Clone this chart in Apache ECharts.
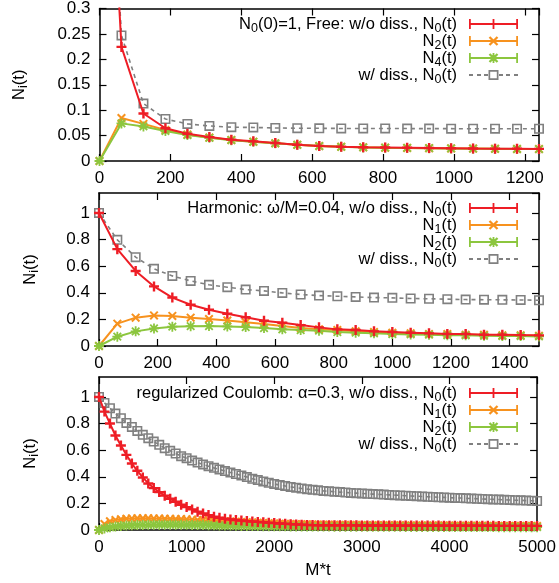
<!DOCTYPE html>
<html lang="en">
  <head>
    <meta charset="UTF-8" />
    <title>N_i(t)</title>
    <style>
      body {
        margin: 0;
        overflow: hidden;
        background: #fff;
      }
      #chart {
        width: 559px;
        height: 583px;
      }
    </style>
    <script src="https://cdn.jsdelivr.net/npm/echarts@6/dist/echarts.min.js"></script>
  </head>
  <body>
    <div id="chart"></div>
    <script>
      // ---- data ----
      // panel 1: free
      var t1 = [0, 62, 124, 186, 248, 310, 372, 434, 496, 558, 620, 682, 744, 806, 868, 930, 992, 1054, 1116, 1178, 1240];
      var freeN0 = [1, 0.2245, 0.0935, 0.0645, 0.0535, 0.047, 0.042, 0.0387, 0.0355, 0.032, 0.0297, 0.028, 0.027, 0.0265, 0.026, 0.0255, 0.025, 0.0245, 0.0242, 0.024, 0.0238];
      var freeN2 = [0, 0.0845, 0.073, 0.061, 0.052, 0.046, 0.0415, 0.038, 0.035, 0.032, 0.0295, 0.028, 0.027, 0.0263, 0.0258, 0.0253, 0.0248, 0.0244, 0.024, 0.0237, 0.0235];
      var freeN4 = [0, 0.074, 0.068, 0.059, 0.051, 0.0455, 0.041, 0.0378, 0.0348, 0.0318, 0.0293, 0.0278, 0.0268, 0.0262, 0.0257, 0.0252, 0.0247, 0.0243, 0.024, 0.0236, 0.0234];
      var freeDiss = [1, 0.247, 0.113, 0.0826, 0.073, 0.069, 0.0665, 0.066, 0.065, 0.0645, 0.0643, 0.064, 0.064, 0.064, 0.0638, 0.0637, 0.0636, 0.0635, 0.0635, 0.0634, 0.0634];

      // panel 2: harmonic
      var t2 = [0, 62.5, 125, 187.5, 250, 312.5, 375, 437.5, 500, 562.5, 625, 687.5, 750, 812.5, 875, 937.5, 1000, 1062.5, 1125, 1187.5, 1250, 1312.5, 1375, 1437.5, 1500];
      var harmN0 = [1, 0.728, 0.564, 0.448, 0.364, 0.31, 0.272, 0.242, 0.216, 0.19, 0.175, 0.157, 0.14, 0.125, 0.12, 0.11, 0.105, 0.1, 0.095, 0.09, 0.09, 0.085, 0.085, 0.082, 0.08];
      var harmN1 = [0, 0.168, 0.213, 0.23, 0.226, 0.213, 0.203, 0.191, 0.178, 0.165, 0.15, 0.135, 0.125, 0.12, 0.11, 0.105, 0.1, 0.095, 0.09, 0.09, 0.085, 0.085, 0.08, 0.08, 0.077];
      var harmN2 = [0, 0.07, 0.11, 0.132, 0.145, 0.149, 0.15, 0.147, 0.142, 0.135, 0.125, 0.12, 0.115, 0.105, 0.1, 0.095, 0.09, 0.087, 0.085, 0.08, 0.08, 0.077, 0.075, 0.075, 0.072];
      var harmDiss = [1, 0.798, 0.668, 0.58, 0.527, 0.489, 0.46, 0.442, 0.424, 0.414, 0.399, 0.387, 0.379, 0.374, 0.369, 0.364, 0.362, 0.357, 0.355, 0.352, 0.349, 0.348, 0.347, 0.346, 0.344];

      // panel 3: regularized Coulomb
      var t3 = [0, 62.5, 125, 187.5, 250, 312.5, 375, 437.5, 500, 562.5, 625, 687.5, 750, 812.5, 875, 937.5,
        1000, 1062.5, 1125, 1187.5, 1250, 1312.5, 1375, 1437.5, 1500, 1562.5, 1625, 1687.5, 1750, 1812.5, 1875, 1937.5,
        2000, 2062.5, 2125, 2187.5, 2250, 2312.5, 2375, 2437.5, 2500, 2562.5, 2625, 2687.5, 2750, 2812.5, 2875, 2937.5,
        3000, 3062.5, 3125, 3187.5, 3250, 3312.5, 3375, 3437.5, 3500, 3562.5, 3625, 3687.5, 3750, 3812.5, 3875, 3937.5,
        4000, 4062.5, 4125, 4187.5, 4250, 4312.5, 4375, 4437.5, 4500, 4562.5, 4625, 4687.5, 4750, 4812.5, 4875, 4937.5, 5000];
      var coulN0 = [1, 0.89, 0.8, 0.71, 0.635, 0.565, 0.5, 0.445, 0.395, 0.35, 0.315, 0.285, 0.258, 0.235, 0.212, 0.19,
        0.172, 0.155, 0.138, 0.124, 0.112, 0.1, 0.092, 0.085, 0.079, 0.075, 0.071, 0.067, 0.064, 0.061, 0.058, 0.055,
        0.052, 0.049, 0.047, 0.044, 0.042, 0.04, 0.038, 0.037, 0.036, 0.036, 0.036, 0.035, 0.035, 0.035, 0.035, 0.035,
        0.034, 0.034, 0.034, 0.034, 0.034, 0.034, 0.033, 0.033, 0.033, 0.033, 0.033, 0.033, 0.033, 0.033, 0.033,
        0.032, 0.032, 0.032, 0.032, 0.032, 0.032, 0.032, 0.032, 0.032, 0.032, 0.031, 0.031, 0.031, 0.031, 0.031, 0.031, 0.031, 0.031];
      var coulN1 = [0, 0.045, 0.065, 0.075, 0.081, 0.085, 0.087, 0.088, 0.088, 0.088, 0.087, 0.086, 0.085, 0.084, 0.083, 0.082,
        0.08, 0.078, 0.076, 0.074, 0.072, 0.07, 0.068, 0.066, 0.064, 0.062, 0.06, 0.058, 0.056, 0.054, 0.052, 0.05,
        0.049, 0.047, 0.046, 0.045, 0.044, 0.043, 0.042, 0.041, 0.04, 0.04, 0.039, 0.039, 0.038, 0.038, 0.037, 0.037,
        0.037, 0.036, 0.036, 0.036, 0.035, 0.035, 0.035, 0.035, 0.034, 0.034, 0.034, 0.034, 0.033, 0.033, 0.033, 0.033,
        0.033, 0.032, 0.032, 0.032, 0.032, 0.032, 0.032, 0.031, 0.031, 0.031, 0.031, 0.031, 0.031, 0.03, 0.03, 0.03, 0.03];
      var coulN2 = [0, 0.012, 0.02, 0.026, 0.03, 0.033, 0.035, 0.037, 0.038, 0.039, 0.04, 0.04, 0.04, 0.04, 0.04, 0.039,
        0.039, 0.038, 0.038, 0.037, 0.036, 0.035, 0.034, 0.033, 0.033, 0.032, 0.031, 0.031, 0.03, 0.03, 0.029, 0.029,
        0.028, 0.028, 0.028, 0.027, 0.027, 0.027, 0.026, 0.026, 0.026, 0.026, 0.026, 0.025, 0.025, 0.025, 0.025, 0.025,
        0.025, 0.024, 0.024, 0.024, 0.024, 0.024, 0.024, 0.024, 0.023, 0.023, 0.023, 0.023, 0.023, 0.023, 0.023, 0.023,
        0.022, 0.022, 0.022, 0.022, 0.022, 0.022, 0.022, 0.022, 0.022, 0.021, 0.021, 0.021, 0.021, 0.021, 0.021, 0.021, 0.021];
      var coulDiss = [1, 0.955, 0.915, 0.875, 0.84, 0.805, 0.775, 0.745, 0.715, 0.69, 0.665, 0.64, 0.615, 0.595, 0.575, 0.555,
        0.54, 0.522, 0.507, 0.493, 0.48, 0.467, 0.455, 0.443, 0.432, 0.421, 0.41, 0.398, 0.385, 0.375, 0.365, 0.355,
        0.346, 0.338, 0.331, 0.324, 0.318, 0.312, 0.307, 0.302, 0.298, 0.294, 0.291, 0.288, 0.285, 0.282, 0.279, 0.277,
        0.275, 0.272, 0.27, 0.268, 0.266, 0.264, 0.262, 0.26, 0.258, 0.256, 0.254, 0.252, 0.25, 0.248, 0.246, 0.245,
        0.243, 0.241, 0.24, 0.238, 0.236, 0.235, 0.233, 0.232, 0.23, 0.229, 0.227, 0.226, 0.224, 0.223, 0.221, 0.22, 0.218];

      // legend texts (rich text, s = subscript)
      var labels = {
        f0: "{m|N}{s|0}{m|(0)=1, Free: w/o diss., N}{s|0}{e|(t)}",
        f2: "{m|N}{s|2}{e|(t)}",
        f4: "{m|N}{s|4}{e|(t)}",
        fd: "{m|w/ diss., N}{s|0}{e|(t)}",
        h0: "{m|Harmonic: ω/M=0.04, w/o diss., N}{s|0}{e|(t)}",
        h1: "{m|N}{s|1}{e|(t)}",
        h2: "{m|N}{s|2}{e|(t)}",
        hd: "{m|w/ diss., N}{s|0}{e|(t)}",
        c0: "{m|regularized Coulomb: α=0.3, w/o diss., N}{s|0}{e|(t)}",
        c1: "{m|N}{s|1}{e|(t)}",
        c2: "{m|N}{s|2}{e|(t)}",
        cd: "{m|w/ diss., N}{s|0}{e|(t)}",
      };

      var FONT = "Liberation Sans";
      var RED = "#ee1d25";
      var ORANGE = "#f7921e";
      var GREEN = "#8cc63e";
      var GRAY = "#808080";

      var rich = {
        m: { fontSize: 16.5, fontFamily: FONT, color: "#000", lineHeight: 19 },
        e: { fontSize: 16.5, fontFamily: FONT, color: "#000", lineHeight: 19, padding: [0, 7, 0, 0] },
        s: { fontSize: 12.5, fontFamily: FONT, color: "#000", lineHeight: 13, padding: [9, 0, 0, 0] },
      };

      // point markers
      var PLUS = "path://M-1.2,-5h2.4v10h-2.4z M-5,-1.2h10v2.4h-10z";
      var CROSS = "path://M-5,-3.4L-3.4,-5L5,3.4L3.4,5z M-5,3.4L3.4,-5L5,-3.4L-3.4,5z";
      var STAR = "path://M-0.9,-5h1.8v10h-1.8z M-5,-0.9h10v1.8h-10z M-4.4,-3.1L-3.1,-4.4L4.4,3.1L3.1,4.4z M-4.4,3.1L3.1,-4.4L4.4,-3.1L-3.1,4.4z";
      var SQUARE = "path://M-5,-5h10v10h-10z M-3.4,-3.4v6.8h6.8v-6.8z";

      // legend samples (error bar style)
      var ENDS = "M0,0h1.8v10h-1.8z M47.2,0h1.8v10h-1.8z M0,4.1h49v1.8h-49z";
      var ICON_RED = "path://" + ENDS + " M23.6,0h1.8v10h-1.8z";
      var ICON_ORANGE = "path://" + ENDS + " M19.7,1.8L21.3,0.2L29.3,8.2L27.7,9.8z M19.7,8.2L27.7,0.2L29.3,1.8L21.3,9.8z";
      var ICON_GREEN = "path://" + ENDS + " M23.6,0h1.8v10h-1.8z M19.7,1.8L21.3,0.2L29.3,8.2L27.7,9.8z M19.7,8.2L27.7,0.2L29.3,1.8L21.3,9.8z";
      var ICON_GRAY = "path://M0,4.1h4v1.8h-4z M8,4.1h4v1.8h-4z M15,4.1h4v1.8h-4z M30,4.1h4v1.8h-4z M37,4.1h4v1.8h-4z M45,4.1h4v1.8h-4z M19.5,0h10v10h-10z M21.2,1.7v6.6h6.6v-6.6z";

      var grids = [
        { left: 99, top: 6, width: 440, height: 155 },
        { left: 99, top: 193, width: 440, height: 153 },
        { left: 99, top: 377, width: 440, height: 153 },
      ];

      var frame = { show: true, onZero: false, lineStyle: { color: "#000", width: 1.5 } };
      var ticks = { show: true, inside: true, length: 7, lineStyle: { color: "#000", width: 1.2 } };
      var tickLabel = {
        color: "#000", fontSize: 17, fontFamily: FONT,
        formatter: function (v) {
          return String(v);
        },
      };

      function xAxes(i, max, interval, hideMax, name) {
        return [
          {
            type: "value", gridIndex: i, min: 0, max: max, interval: interval, position: "bottom",
            axisLine: frame, axisTick: ticks, splitLine: { show: false },
            axisLabel: Object.assign({ margin: 9, showMaxLabel: !hideMax }, tickLabel),
            name: name || "", nameLocation: "middle", nameGap: 32,
            nameTextStyle: { color: "#000", fontSize: 17, fontFamily: FONT },
          },
          {
            type: "value", gridIndex: i, min: 0, max: max, interval: interval, position: "top",
            axisLine: frame, axisTick: ticks, splitLine: { show: false }, axisLabel: { show: false },
          },
        ];
      }

      function yAxes(i, max, interval, hideMax, gap) {
        return [
          {
            type: "value", gridIndex: i, min: 0, max: max, interval: interval, position: "left",
            axisLine: frame, axisTick: ticks, splitLine: { show: false },
            axisLabel: Object.assign({ margin: 9, showMaxLabel: !hideMax }, tickLabel),
            name: "{m|N}{s|i}{m|(t)}", nameLocation: "middle", nameRotate: 90, nameGap: gap,
            nameTextStyle: { rich: rich },
          },
          {
            type: "value", gridIndex: i, min: 0, max: max, interval: interval, position: "right",
            axisLine: frame, axisTick: ticks, splitLine: { show: false }, axisLabel: { show: false },
          },
        ];
      }

      function pts(t, y) {
        return t.map(function (x, k) {
          return [x, y[k]];
        });
      }

      function line(name, i, t, y, kind) {
        var s = {
          name: name, type: "line", xAxisIndex: 2 * i, yAxisIndex: 2 * i, data: pts(t, y),
          symbolSize: 10, animation: false, clip: true, z: 3,
          emphasis: { disabled: true },
        };
        if (kind === "red") {
          s.symbol = PLUS; s.color = RED;
          s.lineStyle = { color: RED, width: 2 };
          s.itemStyle = { color: RED, borderWidth: 0 };
          s.z = 5;
        } else if (kind === "orange") {
          s.symbol = CROSS; s.symbolSize = 9; s.color = ORANGE;
          s.lineStyle = { color: ORANGE, width: 2 };
          s.itemStyle = { color: ORANGE, borderWidth: 0 };
        } else if (kind === "green") {
          s.symbol = STAR; s.color = GREEN;
          s.lineStyle = { color: GREEN, width: 2 };
          s.itemStyle = { color: GREEN, borderWidth: 0 };
          s.z = 4;
        } else {
          s.symbol = SQUARE; s.color = GRAY;
          s.lineStyle = { color: GRAY, width: 1.6, type: [4, 4] };
          s.itemStyle = { color: GRAY, borderWidth: 0 };
          s.z = 2;
        }
        return s;
      }

      function legend(keys, top) {
        var icons = [ICON_RED, ICON_ORANGE, ICON_GREEN, ICON_GRAY];
        return {
          orient: "vertical", align: "right", right: 41, top: top, padding: 0,
          itemWidth: 49, itemHeight: 10, itemGap: -5, selectedMode: false,
          data: keys.map(function (k, j) {
            return { name: k, icon: icons[j], itemStyle: { borderWidth: 0 } };
          }),
          formatter: function (n) {
            return labels[n];
          },
          textStyle: { rich: rich },
        };
      }

      var option = {
        backgroundColor: "#fff",
        animation: false,
        grid: grids,
        xAxis: [].concat(xAxes(0, 1240, 200, true), xAxes(1, 1500, 200, true), xAxes(2, 5000, 1000, false, "M*t")),
        yAxis: [].concat(yAxes(0, 0.3, 0.05, false, 71), yAxes(1, 1.15, 0.2, true, 59), yAxes(2, 1.15, 0.2, true, 59)),
        legend: [
          legend(["f0", "f2", "f4", "fd"], 13),
          legend(["h0", "h1", "h2", "hd"], 197),
          legend(["c0", "c1", "c2", "cd"], 382),
        ],
        series: [
          line("fd", 0, t1, freeDiss, "gray"),
          line("f4", 0, t1, freeN4, "green"),
          line("f2", 0, t1, freeN2, "orange"),
          line("f0", 0, t1, freeN0, "red"),
          line("hd", 1, t2, harmDiss, "gray"),
          line("h2", 1, t2, harmN2, "green"),
          line("h1", 1, t2, harmN1, "orange"),
          line("h0", 1, t2, harmN0, "red"),
          line("cd", 2, t3, coulDiss, "gray"),
          line("c2", 2, t3, coulN2, "green"),
          line("c1", 2, t3, coulN1, "orange"),
          line("c0", 2, t3, coulN0, "red"),
        ],
      };

      var myChart = echarts.init(document.getElementById("chart"), null, { renderer: "canvas" });
      myChart.setOption(option);
    </script>
  </body>
</html>
